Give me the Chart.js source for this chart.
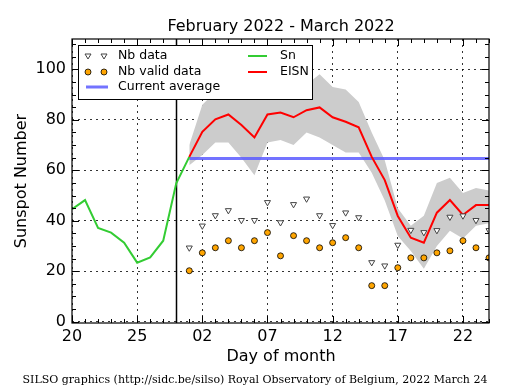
<!DOCTYPE html>
<html>
<head>
<meta charset="utf-8">
<script src="https://cdn.jsdelivr.net/npm/chart.js"></script>
<style>
  body { margin: 0; background: #fff; }
  #wrap { width: 515px; height: 390px; }
</style>
</head>
<body>
<div id="wrap"><canvas id="snChart" width="515" height="390"></canvas></div>
<script>
// Días desde el 20 de febrero (0) hasta el 24 de marzo (32)
const tickDays = [0, 5, 10, 15, 20, 25, 30];
const tickLabels = ['20', '25', '02', '07', '12', '17', '22'];
const yTicks = [0, 20, 40, 60, 80, 100];

// Sn (verde)
const snDays = [0, 1, 2, 3, 4, 5, 6, 7, 8, 9];
const snValues = [44.6, 48.2, 37.2, 35.3, 31.3, 23.4, 25.5, 32.1, 54.8, 65.3];

// EISN y sus datos
const eisnDays = [9, 10, 11, 12, 13, 14, 15, 16, 17, 18, 19, 20, 21, 22, 23, 24, 25, 26, 27, 28, 29, 30, 31, 32];
const eisnValues = [65.3, 75.2, 80.2, 82.1, 77.9, 73.0, 82.1, 82.9, 81.0, 83.8, 84.9, 81.0, 79.2, 77.0, 65.3, 56.1, 41.9, 33.3, 31.3, 43.2, 48.2, 42.3, 46.2, 46.2];
const bandLow = [62, 66, 71, 71, 65, 58, 71, 72, 70, 75, 73, 70, 67, 67, 59, 48, 34, 28, 21, 30, 36, 33, 38, 39];
const bandHigh = [70, 86, 91, 92, 92, 88, 92, 93, 92, 94, 98, 93, 92, 87, 75, 64, 45, 38, 42, 55, 57, 51, 53, 52];
const nbData = [29.3, 38.0, 42.1, 44.1, 40.2, 40.2, 47.3, 39.3, 46.5, 48.7, 42.1, 38.2, 43.2, 41.3, 23.5, 22.2, 30.4, 36.3, 35.4, 36.2, 41.5, 42.0, 40.2, 36.2];
const nbValid = [20.2, 27.3, 29.3, 32.1, 29.3, 32.1, 35.3, 26.1, 34.1, 32.1, 29.3, 31.3, 33.3, 29.3, 14.3, 14.3, 21.4, 25.3, 25.3, 27.3, 28.1, 32.1, 29.3, 25.3];
const currentAverage = 64.7;
const avgDays = [9, 32];
const splitDay = 8;

const FONT = '"DejaVu Sans", sans-serif';

function pts(xs, ys) {
    return xs.map((x, i) => ({ x: x, y: ys[i] }));
}

// Marco, marcas, textos y leyenda
const decoPlugin = {
    id: 'deco',
    beforeDatasetsDraw(chart) {
        const ctx = chart.ctx;
        const a = chart.chartArea;
        const xs = chart.scales.x;
        ctx.save();
        ctx.strokeStyle = '#000';
        ctx.lineWidth = 1.5;
        const px = Math.round(xs.getPixelForValue(splitDay)) + 0.5;
        ctx.beginPath();
        ctx.moveTo(px, a.top);
        ctx.lineTo(px, a.bottom);
        ctx.stroke();
        ctx.restore();
    },
    afterDraw(chart) {
        const ctx = chart.ctx;
        const a = chart.chartArea;
        const xs = chart.scales.x;
        const ys = chart.scales.y;
        ctx.save();

        // marcas menores y mayores hacia dentro
        ctx.strokeStyle = '#000';
        ctx.lineWidth = 1;
        ctx.beginPath();
        for (let d = 0; d <= 32; d++) {
            const len = d % 5 === 0 ? 7 : 4;
            const x = Math.round(xs.getPixelForValue(d)) + 0.5;
            ctx.moveTo(x, a.bottom); ctx.lineTo(x, a.bottom - len);
            ctx.moveTo(x, a.top); ctx.lineTo(x, a.top + len);
        }
        for (let v = 0; v <= 110; v += 5) {
            const len = v % 20 === 0 ? 7 : 4;
            const y = Math.round(ys.getPixelForValue(v)) + 0.5;
            ctx.moveTo(a.left, y); ctx.lineTo(a.left + len, y);
            ctx.moveTo(a.right, y); ctx.lineTo(a.right - len, y);
        }
        ctx.stroke();

        // marco
        ctx.lineWidth = 1.2;
        ctx.strokeRect(a.left, a.top, a.right - a.left, a.bottom - a.top);

        // textos
        ctx.fillStyle = '#000';
        ctx.textAlign = 'center';
        ctx.textBaseline = 'middle';
        ctx.font = '16px ' + FONT;
        ctx.fillText('February 2022 - March 2022', 281, 27);
        ctx.fillText('Day of month', 281, 357);
        ctx.save();
        ctx.translate(22, 181);
        ctx.rotate(-Math.PI / 2);
        ctx.fillText('Sunspot Number', 0, 0);
        ctx.restore();
        ctx.font = '11px "DejaVu Serif", serif';
        ctx.fillText('SILSO graphics (http://sidc.be/silso) Royal Observatory of Belgium, 2022 March 24', 255, 380);

        // leyenda
        const lx = 78, ly = 45, lw = 234, lh = 54;
        ctx.fillStyle = '#fff';
        ctx.fillRect(lx, ly, lw, lh);
        ctx.strokeStyle = '#000';
        ctx.lineWidth = 1;
        ctx.strokeRect(lx + 0.5, ly + 0.5, lw, lh);

        ctx.font = '12.5px ' + FONT;
        ctx.textAlign = 'left';
        ctx.fillStyle = '#000';
        ctx.fillText('Nb data', 118, 56);
        ctx.fillText('Nb valid data', 118, 72);
        ctx.fillText('Current average', 118, 87);
        ctx.fillText('Sn', 280, 56);
        ctx.fillText('EISN', 280, 72);

        // símbolos
        [88, 104].forEach(x => {
            ctx.beginPath();
            ctx.moveTo(x - 3, 54); ctx.lineTo(x + 3, 54); ctx.lineTo(x, 59); ctx.closePath();
            ctx.fillStyle = '#fff'; ctx.fill();
            ctx.strokeStyle = '#444'; ctx.lineWidth = 1; ctx.stroke();
            ctx.beginPath();
            ctx.arc(x, 72, 3, 0, Math.PI * 2);
            ctx.fillStyle = '#FFA500'; ctx.fill();
            ctx.strokeStyle = '#000'; ctx.lineWidth = 0.8; ctx.stroke();
        });
        ctx.lineWidth = 3;
        ctx.strokeStyle = 'rgba(90,90,255,0.85)';
        ctx.beginPath(); ctx.moveTo(86, 87); ctx.lineTo(108, 87); ctx.stroke();
        ctx.lineWidth = 2;
        ctx.strokeStyle = '#33cc33';
        ctx.beginPath(); ctx.moveTo(248, 56); ctx.lineTo(267, 56); ctx.stroke();
        ctx.strokeStyle = '#ff0000';
        ctx.beginPath(); ctx.moveTo(248, 72); ctx.lineTo(267, 72); ctx.stroke();

        ctx.restore();
    }
};

const ctx = document.getElementById('snChart').getContext('2d');
const snChart = new Chart(ctx, {
    type: 'line',
    data: {
        datasets: [
            {
                label: 'band low',
                data: pts(eisnDays, bandLow),
                borderWidth: 0,
                borderColor: 'rgba(0,0,0,0)',
                pointRadius: 0,
                fill: false,
                order: 10
            },
            {
                label: 'band high',
                data: pts(eisnDays, bandHigh),
                borderWidth: 0,
                borderColor: 'rgba(0,0,0,0)',
                backgroundColor: '#cccccc',
                pointRadius: 0,
                fill: '-1',
                order: 9
            },
            {
                label: 'Current average',
                data: pts(avgDays, [currentAverage, currentAverage]),
                borderColor: 'rgba(90,90,255,0.85)',
                borderWidth: 3,
                pointRadius: 0,
                fill: false,
                order: 5
            },
            {
                label: 'Sn',
                data: pts(snDays, snValues),
                borderColor: '#33cc33',
                borderWidth: 2,
                pointRadius: 0,
                fill: false,
                order: 4
            },
            {
                label: 'EISN',
                data: pts(eisnDays, eisnValues),
                borderColor: '#ff0000',
                borderWidth: 2,
                pointRadius: 0,
                fill: false,
                order: 3
            },
            {
                label: 'Nb data',
                data: pts(eisnDays, nbData),
                showLine: false,
                pointStyle: 'triangle',
                rotation: 180,
                pointRadius: 3.5,
                pointBackgroundColor: '#fff',
                pointBorderColor: '#444',
                pointBorderWidth: 1,
                order: 2
            },
            {
                label: 'Nb valid data',
                data: pts(eisnDays, nbValid),
                showLine: false,
                pointStyle: 'circle',
                pointRadius: 3,
                pointBackgroundColor: '#FFA500',
                pointBorderColor: '#000',
                pointBorderWidth: 0.8,
                order: 1
            }
        ]
    },
    options: {
        responsive: false,
        animation: false,
        layout: { padding: { left: 0, top: 39, right: 26, bottom: 0 } },
        elements: { line: { tension: 0 } },
        plugins: {
            legend: { display: false },
            title: { display: false },
            tooltip: { enabled: false },
            filler: { drawTime: 'beforeDatasetsDraw' }
        },
        scales: {
            x: {
                type: 'linear',
                min: 0,
                max: 32,
                afterBuildTicks: s => { s.ticks = tickDays.map(v => ({ value: v })); },
                afterFit: s => { s.height = 67; },
                grid: { color: '#000', lineWidth: 0.8, drawTicks: false },
                border: { display: false, dash: [2, 4] },
                ticks: {
                    padding: 4,
                    maxRotation: 0,
                    autoSkip: false,
                    color: '#000',
                    font: { family: FONT, size: 16 },
                    callback: v => tickLabels[tickDays.indexOf(v)]
                }
            },
            y: {
                type: 'linear',
                min: -0.5,
                max: 112,
                afterBuildTicks: s => { s.ticks = yTicks.map(v => ({ value: v })); },
                afterFit: s => { s.width = 72; },
                grid: { color: '#000', lineWidth: 0.8, drawTicks: false },
                border: { display: false, dash: [2, 4] },
                ticks: {
                    padding: 6,
                    color: '#000',
                    font: { family: FONT, size: 16 }
                }
            }
        }
    },
    plugins: [decoPlugin]
});
</script>
</body>
</html>
